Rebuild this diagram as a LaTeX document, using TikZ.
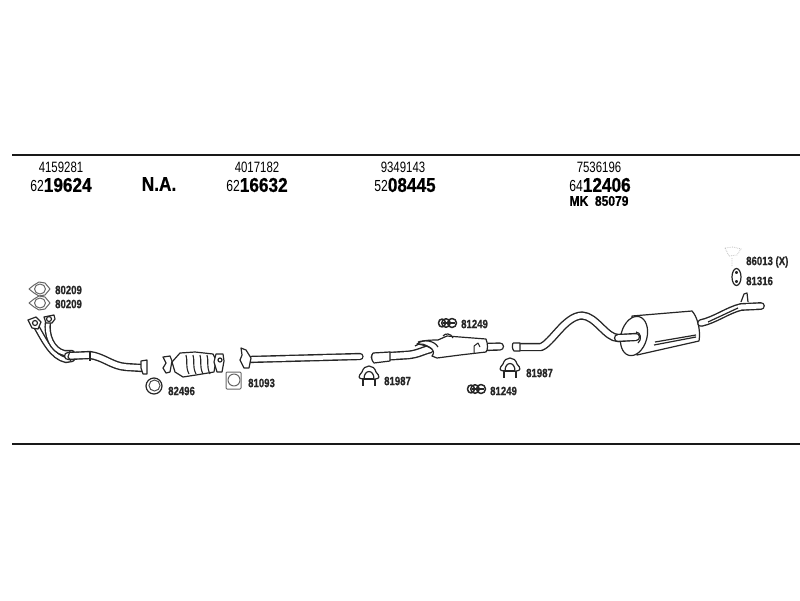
\documentclass[tikz,border=0pt]{standalone}
\usepackage{fontspec}
\setmainfont{Liberation Sans}
\newfontfamily\narrow[FakeStretch=0.76]{Liberation Sans}
\newfontfamily\narrowb[FakeStretch=0.86,FakeBold=0.6]{Liberation Sans Bold}
\newfontfamily\narrowl[FakeStretch=0.80,FakeBold=0.8]{Liberation Sans Bold}
\newcommand{\PN}[2]{{\narrow\fontsize{16}{16}\selectfont #1}{\narrowb\fontsize{20}{20}\selectfont #2}}
\tikzset{
  rule/.style={line width=1.7pt,black!90},
  code/.style={inner sep=0pt,font=\narrow\fontsize{15}{15}\selectfont},
  num/.style={inner sep=0pt},
  part/.style={inner sep=0pt,anchor=west,font=\narrowl\fontsize{12}{12}\selectfont,black!85},
  pipe/.style={draw=black!85,double=white,line width=1.4pt,line cap=round,line join=round},
  ln/.style={draw=black!85,line width=1.2pt,line join=round},
  thin part/.style={draw=black!60,line width=1pt,line join=round},
  faint/.style={draw=black!25,line width=.8pt,densely dotted}
}
\begin{document}
\begin{tikzpicture}[x=1pt,y=-1pt]
\useasboundingbox (0,0) rectangle (800,600);
\draw[rule] (12,155) -- (800,155);
\draw[rule] (12,444) -- (800,444);
% headings
\node[code] (a1) at (61,167) {4159281};
\node[num] (a2) at (61,185) {\PN{62}{19624}};
\node[num] (na) at (159,184) {\narrowb\fontsize{20}{20}\selectfont N.A.};
\node[code] (b1) at (257,167) {4017182};
\node[num] (b2) at (257,185) {\PN{62}{16632}};
\node[code] (c1) at (403,167) {9349143};
\node[num] (c2) at (405,185) {\PN{52}{08445}};
\node[code] (d1) at (599,167) {7536196};
\node[num] (d2) at (600,185) {\PN{64}{12406}};
\node[num] (d3) at (599,201) {\narrowb\fontsize{14}{14}\selectfont MK\ \ 85079};
% part labels
\node[part] at (55,290) {80209};
\node[part] at (55,304) {80209};
\node[part] at (168,391) {82496};
\node[part] at (248,383) {81093};
\node[part] at (384,381) {81987};
\node[part] at (461,324) {81249};
\node[part] at (490,391) {81249};
\node[part] at (526,373) {81987};
\node[part] at (746,262) {86013 (X)};
\node[part] at (746,281) {81316};
% gaskets 80209
\foreach \y in {289,303}{
  \draw[thin part,fill=white] (29,\y) -- (34,\y-4) -- (39,\y-7) -- (45,\y-6) -- (50,\y) -- (45,\y+6) -- (39,\y+7) -- (34,\y+4) -- cycle;
  \draw[thin part] (40,\y) circle[x radius=5.5,y radius=5];
}
% down pipe
\draw[pipe,double distance=3.5pt] (36,326) .. controls (44,340) and (52,357) .. (66,360) -- (72,359);
\draw[pipe,double distance=3.5pt] (48,322) .. controls (46,335) and (52,350) .. (64,353) -- (72,353);
\draw[pipe,double distance=5.5pt] (68,356) -- (90,355) .. controls (104,357) and (112,366) .. (126,367) -- (142,368);
\draw[ln] (70,351) -- (68,357) -- (71,361);
\draw[ln] (90,352) -- (90,361);
\draw[ln,fill=white] (28,320) -- (36,317) -- (41,322) -- (38,329) -- (32,328) -- cycle;
\draw[ln,fill=white] (44,317) -- (54,315) -- (55,319) -- (52,323) -- (46,323) -- cycle;
\draw[ln] (35,323) circle[radius=2.5];
\draw[ln] (49,319) circle[radius=2.5];
\draw[ln,fill=white] (141,361) -- (147,360) -- (147,374) -- (143,374) -- (141,368) -- cycle;
% ring 82496
\draw[draw=black!85,line width=1.2pt] (154,386) circle[radius=8];
\draw[draw=black!70,line width=1pt] (154.5,385.5) circle[radius=5.5];
% cat
\draw[ln,fill=white] (163,357) -- (170,356) -- (172,361) -- (170,372) -- (166,373) -- (163,368) -- (166,363) -- cycle;
\draw[ln,fill=white] (172,362) -- (180,353) -- (195,352) -- (213,354) -- (216,360) -- (214,372) -- (196,375) -- (183,377) -- (175,372) -- cycle;
\foreach \x in {186,193,200,207}{\draw[ln,line width=1.1pt] (\x,355) .. controls (\x+2,361) and (\x-1,366) .. (\x+3,374);}
\draw[ln,fill=white] (216,354) -- (223,354) -- (224,361) -- (222,372) -- (217,372) -- (214,362) -- cycle;
\draw[ln] (220,360) circle[radius=2];
% gasket 81093
\draw[thin part,fill=white,rounded corners=1pt] (226,372) -- (241,372) -- (241,389) -- (226,389) -- cycle;
\draw[thin part] (234,380) circle[radius=6];
% straight pipe
\draw[pipe,double distance=4.5pt] (248,359.5) -- (360,356.5);
\draw[ln,fill=white] (241,348) -- (246,350) -- (251,358) -- (249,368) -- (244,368) -- (240,360) -- (242,355) -- cycle;
% clamps
\foreach \cx/\cy in {369/376,510/368}{
  \begin{scope}[shift={(\cx,\cy)}]
    \draw[ln] (-6,3) .. controls (-11,3) and (-11,0) .. (-7,-4) .. controls (-5,-12) and (5,-12) .. (7,-4) .. controls (11,0) and (11,3) .. (6,3);
    \draw[ln] (-5,3) .. controls (-5,-7) and (5,-7) .. (5,3);
    \draw[ln,line width=1.3pt] (-7,3) -- (5,3);
    \draw[ln,line width=1.6pt] (-6,3) -- (-6,10) (6,3) -- (6,10);
  \end{scope}
}
% U-bolts 81249
\foreach \ix/\iy in {448/323,477/389}{
  \begin{scope}[shift={(\ix,\iy)}]
    \draw[ln,line width=1.5pt] (-6,0) circle[x radius=3.5,y radius=4];
    \draw[ln,line width=1.5pt] (-2,0) circle[radius=4.3];
    \draw[ln,line width=1.5pt] (4,0) circle[radius=4.5];
    \draw[ln] (-5,0) -- (7,0);
  \end{scope}
}
% middle silencer
\draw[pipe,double distance=6pt] (375,357) -- (392,356) -- (408,355) .. controls (418,354) and (422,351) .. (430,349);
\draw[ln,fill=white] (373,353) -- (390,352) -- (390,361) -- (374,363) .. controls (371,360) and (371,356) .. (373,353);
\draw[pipe,double distance=5.5pt] (485,347) -- (500,346.5);
\draw[ln,fill=white] (417,344) .. controls (420,341) and (425,340) .. (438,340) -- (447,336) -- (486,339) .. controls (488,344) and (488,350) .. (486,352) -- (460,355) -- (437,358) -- (432,356) .. controls (436,351) and (432,346) .. (417,344) -- cycle;
\draw[ln] (415,346) .. controls (420,342) and (425,344) .. (432,349);
\draw[ln] (418,342) .. controls (424,340) and (434,340) .. (438,347);
\draw[ln] (443,336) .. controls (445,333) and (451,333) .. (453,338);
\draw[ln,line width=1pt] (474,346) -- (478,343) -- (480,347) (474,346) -- (474,353);
% rear pipe
\draw[pipe,double distance=5.5pt] (516,347) -- (541,347) .. controls (552,343) and (565,316) .. (582,315.5) .. controls (596,316) and (606,338) .. (618,338) -- (638,337);
\draw[ln,fill=white] (513,343) -- (520,343) -- (520,351) -- (514,351) .. controls (512,349) and (512,345) .. (513,343);
% rear muffler
\draw[ln,fill=white] (632,316) -- (692,311) .. controls (697,316) and (701,330) .. (699,341) -- (637,355) -- cycle;
\draw[ln,fill=white,rotate around={-15:(634,336)}] (634,336) ellipse[x radius=13,y radius=20];
\draw[pipe,double distance=5.5pt] (618,338) -- (636,337);
\draw[ln] (636,332) .. controls (641,332) and (642,340) .. (638,343);
\draw[ln] (654,345) -- (696,337) (655,342) -- (696,335);
% tail pipe
\draw[pipe,double distance=5pt] (701,323) .. controls (715,320) and (728,310) .. (741,307) -- (761,306);
\draw[ln,fill=white] (741,302) -- (744,294) -- (747,293) -- (748,302);
\draw[ln] (708,322) -- (738,308);
% hangers
\draw[ln,fill=white] (736.5,277) ellipse[x radius=4.5,y radius=8.5];
\draw[ln] (736.5,272.5) circle[radius=1] (736.5,281.5) circle[radius=1];
\draw[faint] (725,248) -- (733,247) -- (741,249) -- (737,255) -- (729,256) -- cycle (732,258) -- (732,266);
\end{tikzpicture}
\end{document}
